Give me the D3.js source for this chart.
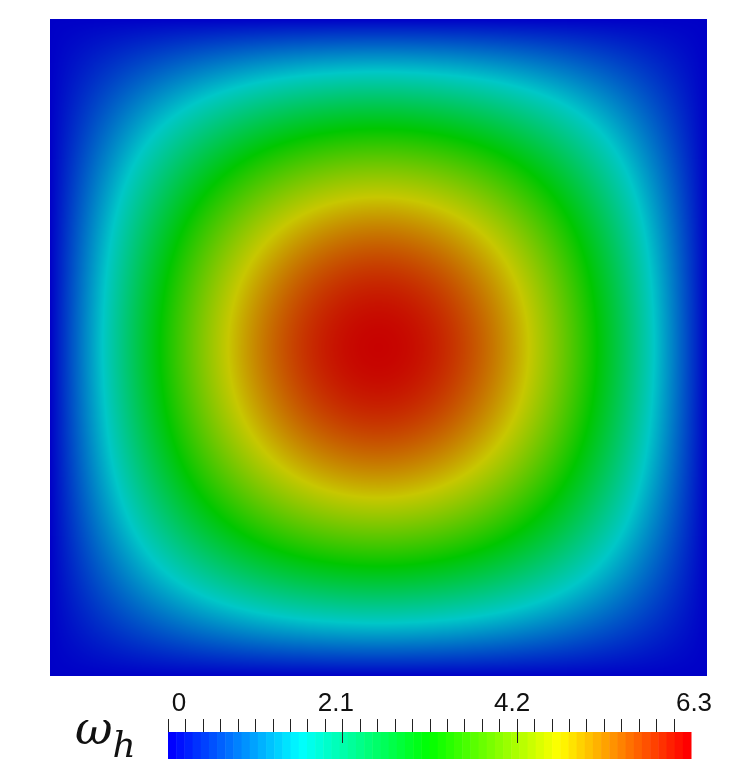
<!DOCTYPE html>
<html>
<head>
<meta charset="utf-8">
<script src="https://cdn.jsdelivr.net/npm/d3@7"></script>
<style>
  body { margin: 0; background: #fff; }
  #wrap { position: relative; width: 751px; height: 767px; }
  #wrap canvas, #wrap svg { position: absolute; left: 0; top: 0; }
</style>
</head>
<body>
<div id="wrap"></div>
<script>
// nodal values of omega_h on a 13 x 13 grid
var omega = [
  [0, 0, 0, 0, 0, 0, 0, 0, 0, 0, 0, 0, 0],
  [0, .42, .81, 1.15, 1.41, 1.57, 1.63, 1.57, 1.41, 1.15, .81, .42, 0],
  [0, .81, 1.57, 2.22, 2.72, 3.03, 3.14, 3.03, 2.72, 2.22, 1.57, .81, 0],
  [0, 1.15, 2.22, 3.14, 3.85, 4.29, 4.44, 4.29, 3.85, 3.14, 2.22, 1.15, 0],
  [0, 1.41, 2.72, 3.85, 4.71, 5.25, 5.44, 5.25, 4.71, 3.85, 2.72, 1.41, 0],
  [0, 1.57, 3.03, 4.29, 5.25, 5.86, 6.07, 5.86, 5.25, 4.29, 3.03, 1.57, 0],
  [0, 1.63, 3.14, 4.44, 5.44, 6.07, 6.28, 6.07, 5.44, 4.44, 3.14, 1.63, 0],
  [0, 1.57, 3.03, 4.29, 5.25, 5.86, 6.07, 5.86, 5.25, 4.29, 3.03, 1.57, 0],
  [0, 1.41, 2.72, 3.85, 4.71, 5.25, 5.44, 5.25, 4.71, 3.85, 2.72, 1.41, 0],
  [0, 1.15, 2.22, 3.14, 3.85, 4.29, 4.44, 4.29, 3.85, 3.14, 2.22, 1.15, 0],
  [0, .81, 1.57, 2.22, 2.72, 3.03, 3.14, 3.03, 2.72, 2.22, 1.57, .81, 0],
  [0, .42, .81, 1.15, 1.41, 1.57, 1.63, 1.57, 1.41, 1.15, .81, .42, 0],
  [0, 0, 0, 0, 0, 0, 0, 0, 0, 0, 0, 0, 0]
];
var range = [0, 6.3];
var tickLabels = [0, 2.1, 4.2, 6.3];
var minorStep = 0.21;
var nBands = 64;

var W = 751, H = 767;
var plot = {x: 50, y: 19, size: 657};
var bar = {x0: 168, x1: 691, y: 732, h: 27};
var shade = 0.78;   // lighting dims the surface a bit

var n = omega.length - 1;
var gx = d3.scaleLinear().domain([0, plot.size]).range([0, n]);

var hue = d3.scaleLinear().domain(range).range([240, 0]).clamp(true);
var color = function(v) { return d3.rgb(d3.hsl(hue(v), 1, 0.5)); };

// lookup table for the surface
var lut = d3.range(1024).map(function(k) {
  var c = color(range[0] + (range[1] - range[0]) * k / 1023);
  return [c.r * shade, c.g * shade, c.b * shade];
});

// grid value with odd reflection across the zero boundary
function node(i, j) {
  var si = 1, sj = 1;
  if (i < 0) { i = -i; si = -1; } else if (i > n) { i = 2 * n - i; si = -1; }
  if (j < 0) { j = -j; sj = -1; } else if (j > n) { j = 2 * n - j; sj = -1; }
  return si * sj * omega[i][j];
}
function cr(f) {
  var f2 = f * f, f3 = f2 * f;
  return [(-f3 + 2 * f2 - f) / 2, (3 * f3 - 5 * f2 + 2) / 2, (-3 * f3 + 4 * f2 + f) / 2, (f3 - f2) / 2];
}
function sample(u, v) {
  var i = Math.min(Math.floor(v), n - 1), j = Math.min(Math.floor(u), n - 1);
  var wy = cr(v - i), wx = cr(u - j), s = 0;
  for (var a = 0; a < 4; a++)
    for (var b = 0; b < 4; b++)
      s += wy[a] * wx[b] * node(i - 1 + a, j - 1 + b);
  return s;
}

var wrap = d3.select("#wrap");

// the surface
var canvas = wrap.append("canvas")
    .attr("width", plot.size)
    .attr("height", plot.size)
    .style("left", plot.x + "px")
    .style("top", plot.y + "px");
var ctx = canvas.node().getContext("2d");
var img = ctx.createImageData(plot.size, plot.size);
for (var py = 0; py < plot.size; py++) {
  for (var px = 0; px < plot.size; px++) {
    var val = sample(gx(px + 0.5), gx(py + 0.5));
    var k = Math.round(Math.max(0, Math.min(1, (val - range[0]) / (range[1] - range[0]))) * 1023);
    var o = 4 * (py * plot.size + px);
    img.data[o] = lut[k][0];
    img.data[o + 1] = lut[k][1];
    img.data[o + 2] = lut[k][2];
    img.data[o + 3] = 255;
  }
}
ctx.putImageData(img, 0, 0);

// colour bar
var svg = wrap.append("svg")
    .attr("width", W)
    .attr("height", H);

var bx = d3.scaleLinear().domain(range).range([bar.x0, bar.x1]);
var bandW = (bar.x1 - bar.x0) / nBands;

svg.append("g").selectAll("rect")
    .data(d3.range(nBands))
  .enter().append("rect")
    .attr("x", function(i) { return bar.x0 + i * bandW; })
    .attr("y", bar.y)
    .attr("width", bandW + 0.5)
    .attr("height", bar.h)
    .attr("fill", function(i) { return color(range[0] + (range[1] - range[0]) * i / (nBands - 1)); });

var minor = d3.range(0, Math.round(range[1] / minorStep)).map(function(i) { return +(i * minorStep).toFixed(2); });
svg.append("g").selectAll("line")
    .data(minor)
  .enter().append("line")
    .attr("x1", function(d) { return Math.round(bx(d)) + 0.5; })
    .attr("x2", function(d) { return Math.round(bx(d)) + 0.5; })
    .attr("y1", 719)
    .attr("y2", function(d) { return (d > 0 && tickLabels.indexOf(d) >= 0) ? 743 : bar.y; })
    .attr("stroke", "#222")
    .attr("stroke-width", 1);

// labels sit a little off their ticks, as in the original
var labelShift = [11, -6.5, -4.5, 3];
svg.append("g").selectAll("text")
    .data(tickLabels)
  .enter().append("text")
    .attr("x", function(d, i) { return bx(d) + labelShift[i]; })
    .attr("y", 711)
    .attr("text-anchor", "middle")
    .style("font-family", "'Liberation Sans', Arial, sans-serif")
    .style("font-size", "26px")
    .style("fill", "#111")
    .text(function(d) { return d; });

var title = svg.append("text")
    .attr("x", 75)
    .attr("y", 744)
    .style("font-family", "'DejaVu Serif', serif")
    .style("font-style", "italic")
    .style("font-size", "46px")
    .style("fill", "#111");
title.append("tspan").text("ω");
title.append("tspan")
    .attr("dy", 13)
    .style("font-size", "36px")
    .text("h");
</script>
</body>
</html>
